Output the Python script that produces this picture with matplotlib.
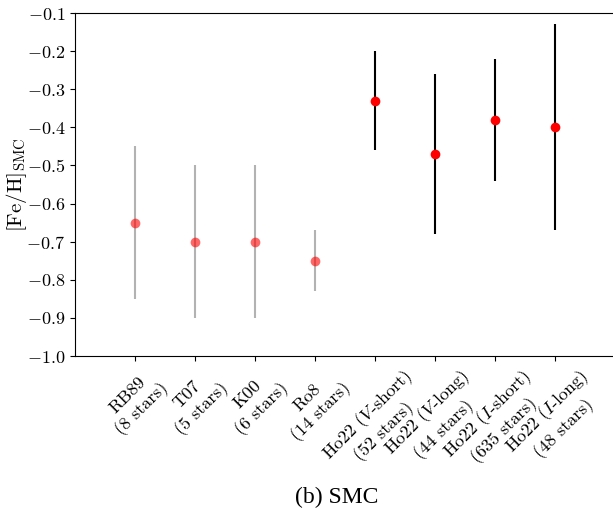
import numpy as np
import matplotlib
matplotlib.use('Agg')
import matplotlib.pyplot as plt

plt.rcParams['font.family'] = 'serif'
plt.rcParams['font.serif'] = ['cmr10']
plt.rcParams['mathtext.fontset'] = 'cm'
plt.rcParams['axes.formatter.use_mathtext'] = True

labels = ['RB89\n(8 stars)', 'T07\n(5 stars)', 'K00\n(6 stars)', 'Ro8\n(14 stars)',
          'Ho22 ($V$-short)\n(52 stars)', 'Ho22 ($V$-long)\n(44 stars)',
          'Ho22 ($I$-short)\n(635 stars)', 'Ho22 ($I$-long)\n(48 stars)']
lit_feh = [-0.65, -0.70, -0.70, -0.75]
lit_err = [0.20, 0.20, 0.20, 0.08]
ho_feh = [-0.33, -0.47, -0.38, -0.40]
ho_err = [0.13, 0.21, 0.16, 0.27]

fig = plt.figure(figsize=(6.13, 5.13), dpi=100)
ax = fig.add_axes([75 / 613, 157 / 513, 540 / 613, 343 / 513])

x = np.arange(len(labels))
ax.errorbar(x[:4], lit_feh, yerr=lit_err, fmt='o', color='red', ms=7, alpha=0.6,
            ecolor='grey', elinewidth=1.5, mec='none')
ax.errorbar(x[4:], ho_feh, yerr=ho_err, fmt='o', color='red', ms=7,
            ecolor='black', elinewidth=1.5, mec='none')

ax.set_xlim(-1, 8)
ax.set_ylim(-1.0, -0.1)
ax.set_yticks(np.arange(-1.0, -0.05, 0.1))
ax.set_xticks(x)
ax.set_xticklabels(labels, rotation=45, ha='center', multialignment='center', fontsize=13)
ax.tick_params(axis='y', labelsize=13)
ax.set_ylabel(r'$[\mathrm{Fe/H}]_{\mathrm{SMC}}$', fontsize=15)
ax.yaxis.set_label_coords(-0.085, 0.5)

fig.text(337 / 613, 1 - 497 / 513, '(b) SMC', ha='center', va='center',
         fontsize=17, family='Liberation Serif')

fig.savefig('out.png', dpi=100)
